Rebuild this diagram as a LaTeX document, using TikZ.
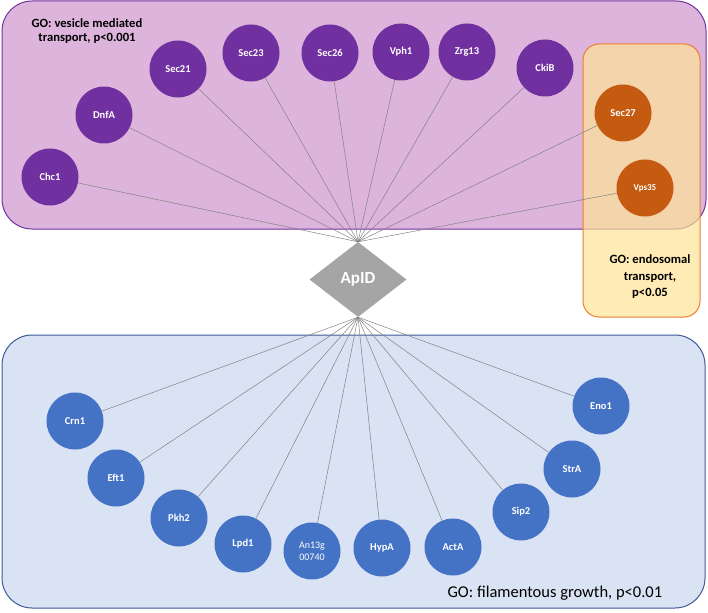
\documentclass[tikz,border=0pt]{standalone}
\usepackage{fontspec}
\setmainfont{Carlito}
\usetikzlibrary{shapes.geometric,backgrounds,positioning}
\definecolor{purplei}{RGB}{112,48,160}
\definecolor{purpleii}{RGB}{221,180,220}
\definecolor{orangei}{RGB}{197,90,17}
\definecolor{orangeii}{RGB}{237,125,49}
\definecolor{yellowi}{RGB}{255,226,150}
\definecolor{bluei}{RGB}{68,114,196}
\definecolor{blueii}{RGB}{218,227,243}
\definecolor{blueiii}{RGB}{60,90,150}
\definecolor{grayi}{RGB}{165,165,165}
\definecolor{grayii}{RGB}{130,130,130}
\tikzset{
      mygene/.style={
        circle,
        fill=#1,
        text=white,
        font=\fontsize{10.5}{12}\selectfont\bfseries,
        inner sep=0pt,
        minimum size=57pt,
        align=center
      },
      mygroup/.style 2 args={
        draw=#1,
        fill=#2,
        line width=1pt,
        rounded corners=30pt
      },
      mylink/.style={
        draw=grayii,
        line width=0.5pt
      },
    }
\begin{document}
\begin{tikzpicture}[x=1pt,y=-1pt]
            \useasboundingbox (0,0) rectangle (708,612);

            %Grups GO
            \draw[mygroup={purplei}{purpleii}] (2,1) rectangle (706,229);
            \draw[mygroup={orangeii}{yellowi},rounded corners=16pt,fill opacity=0.7] (583,44) rectangle (700,317);
            \draw[mygroup={blueiii}{blueii}] (2,335) rectangle (705,608);

            \node[font=\fontsize{12.6}{14}\selectfont\bfseries,align=center]
              (titleVesicle) at (87,31.5)
              {GO: vesicle mediated\\transport, p<0.001};
            \node[font=\fontsize{12.6}{16.5}\selectfont\bfseries,align=center]
              (titleEndo) at (650,277)
              {GO: endosomal\\transport,\\p<0.05};
            \node[font=\fontsize{16.5}{18}\selectfont,anchor=west]
              (titleFilament) at (444,593)
              {GO: filamentous growth, p<0.01};

            %Gen central
            \node[diamond,fill=grayi,text=white,inner sep=0pt,minimum width=97pt,minimum height=75pt,
                  font=\fontsize{17}{18}\selectfont\bfseries]
              (apid) at (358,279.5)
              {ApID};

            %Transport vesicular
            \node[mygene=purplei] (chc1) at (50,177) {Chc1};
            \node[mygene=purplei] (dnfa) at (104,115) {DnfA};
            \node[mygene=purplei] (sec21) at (178,69) {Sec21};
            \node[mygene=purplei] (sec23) at (251,53) {Sec23};
            \node[mygene=purplei] (sec26) at (330,53) {Sec26};
            \node[mygene=purplei] (vph1) at (401,52) {Vph1};
            \node[mygene=purplei] (zrg13) at (467,52) {Zrg13};
            \node[mygene=purplei] (ckib) at (545,68) {CkiB};
            \node[mygene=orangei] (sec27) at (623,113) {Sec27};
            \node[mygene=orangei,font=\fontsize{9}{10}\selectfont\bfseries] (vps35) at (645,188) {Vps35};

            %Creixement filamentos
            \node[mygene=bluei] (crn1) at (75,421) {Crn1};
            \node[mygene=bluei] (eft1) at (116,478) {Eft1};
            \node[mygene=bluei] (pkh2) at (179,518) {Pkh2};
            \node[mygene=bluei] (lpd1) at (243,544) {Lpd1};
            \node[mygene=bluei,font=\fontsize{10}{12}\selectfont] (an13g) at (312,551) {An13g\\00740};
            \node[mygene=bluei] (hypa) at (382,548) {HypA};
            \node[mygene=bluei] (acta) at (453,547) {ActA};
            \node[mygene=bluei] (sip2) at (521,512) {Sip2};
            \node[mygene=bluei] (stra) at (572,469) {StrA};
            \node[mygene=bluei] (eno1) at (601,406) {Eno1};

            \draw [mylink] (apid.north) edge (chc1) edge (dnfa) edge (sec21) edge (sec23) edge (sec26)
              edge (vph1) edge (zrg13) edge (ckib) edge (sec27) edge (vps35);
            \draw [mylink] (apid.south) edge (crn1) edge (eft1) edge (pkh2) edge (lpd1) edge (an13g)
              edge (hypa) edge (acta) edge (sip2) edge (stra) edge (eno1);

          \end{tikzpicture}
\end{document}
